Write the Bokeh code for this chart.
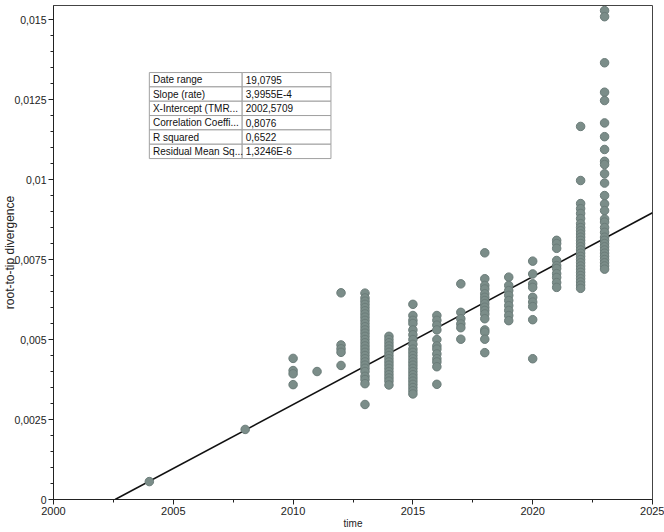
from bokeh.plotting import figure
from bokeh.models import Range1d, FixedTicker, CustomJSTickFormatter, ColumnDataSource
from bokeh.core.properties import value
from bokeh.embed import file_html
from bokeh.resources import INLINE

# ---- data ----
d2004 = [0.00056]
d2008 = [0.00219]
d2010 = [0.00441, 0.00403, 0.00393, 0.00359]
d2011 = [0.00400]
d2012 = [0.00646, 0.00483, 0.00471, 0.00460, 0.00419]
d2013 = [0.00645, 0.00630, 0.00620, 0.00610, 0.00600, 0.00590, 0.00580, 0.00570, 0.00560,
         0.00550, 0.00540, 0.00530, 0.00520, 0.00510, 0.00500, 0.00490, 0.00480, 0.00470,
         0.00460, 0.00450, 0.00440, 0.00430, 0.00420, 0.00410, 0.00400, 0.00385, 0.00375,
         0.00362, 0.00297]
d2014 = [0.00510, 0.00500, 0.00490, 0.00480, 0.00470, 0.00460, 0.00450, 0.00440, 0.00430,
         0.00420, 0.00410, 0.00400, 0.00390, 0.00380, 0.00370, 0.00358]
d2015 = [0.00610, 0.00575, 0.00560, 0.00550, 0.00530, 0.00515, 0.00500, 0.00485, 0.00470,
         0.00460, 0.00450, 0.00440, 0.00430, 0.00420, 0.00410, 0.00400, 0.00390, 0.00380,
         0.00370, 0.00360, 0.00350, 0.00340, 0.00330]
d2016 = [0.00575, 0.00560, 0.00545, 0.00530, 0.00500, 0.00480, 0.00470, 0.00455, 0.00440,
         0.00430, 0.00415, 0.00360]
d2017 = [0.00674, 0.00585, 0.00565, 0.00549, 0.00537, 0.00501]
d2018 = [0.00771, 0.00690, 0.00669, 0.00658, 0.00643, 0.00632, 0.00622, 0.00612, 0.00601,
         0.00591, 0.00580, 0.00565, 0.00530, 0.00523, 0.00501, 0.00459]
d2019 = [0.00695, 0.00669, 0.00653, 0.00638, 0.00622, 0.00606, 0.00591, 0.00575, 0.00559]
d2020 = [0.00745, 0.00705, 0.00674, 0.00663, 0.00632, 0.00617, 0.00603, 0.00562, 0.00440]
d2021 = [0.00810, 0.00800, 0.00785, 0.00747, 0.00731, 0.00722, 0.00706, 0.00694, 0.00678,
         0.00663]
d2022 = [0.01166, 0.00997, 0.00925, 0.00909, 0.00894, 0.00878, 0.00862, 0.00850, 0.00840,
         0.00830, 0.00820, 0.00810, 0.00800, 0.00790, 0.00780, 0.00770, 0.00760, 0.00750,
         0.00740, 0.00730, 0.00720, 0.00710, 0.00700, 0.00690, 0.00680, 0.00670, 0.00660]
d2023 = [0.01528, 0.01509, 0.01365, 0.01273, 0.01247, 0.01177, 0.01134, 0.01094, 0.01057,
         0.01047, 0.01018, 0.00989, 0.00950, 0.00924, 0.00903, 0.00877, 0.00867, 0.00850,
         0.00835, 0.00820, 0.00810, 0.00800, 0.00790, 0.00780, 0.00770, 0.00760, 0.00750,
         0.00740, 0.00730, 0.00720]

sample_years = [2004, 2008, 2010, 2011, 2012, 2013, 2014, 2015, 2016, 2017, 2018, 2019,
                2020, 2021, 2022, 2023]
sample_groups = [d2004, d2008, d2010, d2011, d2012, d2013, d2014, d2015, d2016, d2017,
                 d2018, d2019, d2020, d2021, d2022, d2023]

slope = 3.9955e-4
x_intercept = 2002.5709

stat_labels = ["Date range", "Slope (rate)", "X-Intercept (TMR...", "Correlation Coeffi...",
               "R squared", "Residual Mean Sq..."]
stat_values = ["19,0795", "3,9955E-4", "2002,5709", "0,8076", "0,6522", "1,3246E-6"]

x_ticks = [2000, 2005, 2010, 2015, 2020, 2025]
x_minor = [2002.5, 2007.5, 2012.5, 2017.5, 2022.5]
y_ticks = [0, 0.0025, 0.005, 0.0075, 0.01, 0.0125, 0.015]
y_minor = [round(0.0005 * i, 5) for i in range(0, 31)]

X_MIN, X_MAX = 2000, 2025
Y_MIN, Y_MAX = 0, 0.01544

FONT = "Liberation Sans"

# ---- figure ----
p = figure(width=664, height=532, output_backend="svg", toolbar_location=None,
           x_range=Range1d(X_MIN, X_MAX), y_range=Range1d(Y_MIN, Y_MAX),
           min_border_left=52, min_border_right=12, min_border_top=5, min_border_bottom=33)
p.background_fill_color = "white"
p.border_fill_color = "white"
p.outline_line_color = "#444444"
p.outline_line_width = 1
p.xgrid.visible = False
p.ygrid.visible = False

for ax in (p.xaxis[0], p.yaxis[0]):
    ax.axis_line_color = "#222222"
    ax.major_tick_line_color = "#222222"
    ax.minor_tick_line_color = "#222222"
    ax.major_tick_in = 0
    ax.major_tick_out = 5
    ax.minor_tick_in = 0
    ax.minor_tick_out = 3
    ax.major_label_text_font = FONT
    ax.major_label_text_color = "#222222"
    ax.axis_label_text_font = FONT
    ax.axis_label_text_font_style = "normal"
    ax.axis_label_text_color = "#222222"
    ax.major_label_standoff = 2

p.xaxis[0].major_label_text_font_size = "11px"
p.xaxis[0].axis_label_text_font_size = "10px"
p.xaxis[0].axis_label_standoff = 0
p.yaxis[0].major_label_text_font_size = "10.5px"
p.yaxis[0].axis_label_text_font_size = "12px"
p.yaxis[0].axis_label_standoff = -6

p.xaxis[0].ticker = FixedTicker(ticks=x_ticks, minor_ticks=x_minor)
p.yaxis[0].ticker = FixedTicker(ticks=y_ticks, minor_ticks=y_minor)
p.yaxis[0].formatter = CustomJSTickFormatter(code="return tick.toString().replace('.', ',');")
p.xaxis[0].axis_label = "time"
p.yaxis[0].axis_label = "root-to-tip divergence"

# ---- regression line ----
p.line([x_intercept, X_MAX], [0, slope * (X_MAX - x_intercept)], line_color="#111111",
       line_width=1.6)

# ---- points ----
xs, ys = [], []
for yr, grp in zip(sample_years, sample_groups):
    for v in grp:
        xs.append(yr)
        ys.append(v)
p.scatter(xs, ys, size=8.5, fill_color="#7b8d89", line_color="#6b7c79", line_width=1)

# ---- statistics table (drawn in data space) ----
T_LEFT, T_MID, T_RIGHT = 2004.0, 2007.875, 2011.58
T_TOP, T_BOTTOM = 0.013344, 0.010656
n = len(stat_labels)
rh = (T_TOP - T_BOTTOM) / n
tops = [T_TOP - i * rh for i in range(n)]
bots = [t - rh for t in tops]
p.quad(left=[T_LEFT] * n + [T_MID] * n, right=[T_MID] * n + [T_RIGHT] * n,
       top=tops + tops, bottom=bots + bots,
       fill_color="white", line_color="#a0a0a0", line_width=1)
mids = [t - rh / 2 for t in tops]
pad = 0.15
src = ColumnDataSource(dict(x=[T_LEFT + pad] * n + [T_MID + pad] * n, y=mids + mids,
                            t=stat_labels + stat_values))
p.text(x="x", y="y", text="t", source=src, text_font=value(FONT), text_font_size="10px",
       text_baseline="middle", text_align="left", text_color="#111111")

open("out.html", "w").write(file_html(p, INLINE))
